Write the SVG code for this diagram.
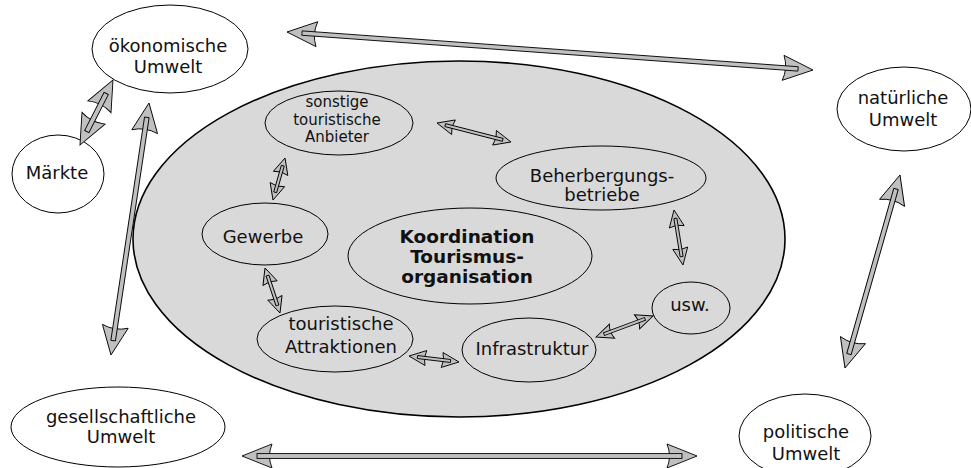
<svg xmlns="http://www.w3.org/2000/svg" width="971" height="468" viewBox="0 0 971 468">
<style>
.bg{fill:#ffffff}
.node{fill:#ffffff;stroke:#000;stroke-width:1}
.inner{fill:#d9d9d9;stroke:#000;stroke-width:1}
.big{fill:#d9d9d9;stroke:#000;stroke-width:1.6}
text{font-family:"DejaVu Sans","Verdana",sans-serif;font-size:18px;fill:#111;text-anchor:middle}
.b{font-weight:bold;font-size:18.5px}
.s{font-size:15px}
.ah{fill:#c0c0c0;stroke:#000;stroke-width:0.9;stroke-linejoin:miter}
.sh{fill:#c0c0c0;stroke:#000;stroke-width:0.9}
</style>
<rect class="bg" x="0" y="0" width="971" height="468"/>
<g id="tourismus-region">
<ellipse class="big" cx="459" cy="239" rx="326" ry="178"/>
</g>
<g id="oekonomische-umwelt">
<ellipse class="node" cx="170" cy="49" rx="78" ry="44"/>
<text x="168" y="52">ökonomische</text>
<text x="168" y="73">Umwelt</text>
</g>
<g id="maerkte">
<ellipse class="node" cx="58" cy="174" rx="46" ry="39"/>
<text x="57" y="179">Märkte</text>
</g>
<g id="natuerliche-umwelt">
<ellipse class="node" cx="904" cy="109" rx="67" ry="42"/>
<text x="903" y="104">natürliche</text>
<text x="903" y="126">Umwelt</text>
</g>
<g id="politische-umwelt">
<ellipse class="node" cx="805" cy="436" rx="66" ry="42"/>
<text x="806" y="438">politische</text>
<text x="806" y="460">Umwelt</text>
</g>
<g id="gesellschaftliche-umwelt">
<ellipse class="node" cx="118" cy="427" rx="107" ry="40"/>
<text x="121" y="423">gesellschaftliche</text>
<text x="121" y="443">Umwelt</text>
</g>
<g id="sonstige-anbieter">
<ellipse class="inner" cx="339" cy="123" rx="74" ry="32"/>
<text class="s" x="337" y="107">sonstige</text>
<text class="s" x="337" y="124.5">touristische</text>
<text class="s" x="337" y="142">Anbieter</text>
</g>
<g id="beherbergungsbetriebe">
<ellipse class="inner" cx="601" cy="178" rx="105" ry="32"/>
<text x="602" y="182">Beherbergungs-</text>
<text x="602" y="201">betriebe</text>
</g>
<g id="gewerbe">
<ellipse class="inner" cx="265" cy="234" rx="63" ry="31"/>
<text x="263" y="243">Gewerbe</text>
</g>
<g id="koordination">
<ellipse class="inner" cx="470" cy="256" rx="122" ry="48"/>
<text class="b" x="467" y="243">Koordination</text>
<text class="b" x="467" y="263">Tourismus-</text>
<text class="b" x="467" y="283">organisation</text>
</g>
<g id="touristische-attraktionen">
<ellipse class="inner" cx="335" cy="339" rx="78" ry="33"/>
<text x="341" y="330">touristische</text>
<text x="341" y="353">Attraktionen</text>
</g>
<g id="infrastruktur">
<ellipse class="inner" cx="529" cy="350" rx="67" ry="32"/>
<text x="532" y="355">Infrastruktur</text>
</g>
<g id="usw">
<ellipse class="inner" cx="691" cy="308" rx="39" ry="26"/>
<text x="690" y="311">usw.</text>
</g>
<g id="connectors">
<g transform="translate(287,32) rotate(4.132)">
<path class="ah" d="M0,0 L30,-12.5 Q25,0 30,12.5 Z M527.4,0 L497.4,-12.5 Q502.4,0 497.4,12.5 Z"/>
<rect class="sh" x="15" y="-2.2" width="497.4" height="4.4"/>
</g>
<g transform="translate(113,80) rotate(116.92)">
<path class="ah" d="M0,0 L30,-13 Q25,0 30,13 Z M72.9,0 L42.9,-13 Q47.9,0 42.9,13 Z"/>
<rect class="sh" x="15" y="-2.4" width="42.9" height="4.8"/>
</g>
<g transform="translate(149,103) rotate(98.58)">
<path class="ah" d="M0,0 L29,-13 Q24,0 29,13 Z M254.85,0 L225.85,-13 Q230.85,0 225.85,13 Z"/>
<rect class="sh" x="14.5" y="-2.3" width="225.85" height="4.6"/>
</g>
<g transform="translate(900,175) rotate(105.91)">
<path class="ah" d="M0,0 L29,-13 Q24,0 29,13 Z M200.7,0 L171.7,-13 Q176.7,0 171.7,13 Z"/>
<rect class="sh" x="14.5" y="-2.3" width="171.7" height="4.6"/>
</g>
<g transform="translate(242,456) rotate(0)">
<path class="ah" d="M0,0 L30,-12 Q25,0 30,12 Z M455,0 L425,-12 Q430,0 425,12 Z"/>
<rect class="sh" x="15" y="-2.4" width="425" height="4.8"/>
</g>
<g transform="translate(437,123) rotate(14.40)">
<path class="ah" d="M0,0 L17,-7.5 Q14,0 17,7.5 Z M76.4,0 L59.4,-7.5 Q62.4,0 59.4,7.5 Z"/>
<rect class="sh" x="8.5" y="-1.5" width="59.4" height="3"/>
</g>
<g transform="translate(674,210) rotate(80.71)">
<path class="ah" d="M0,0 L17,-7.5 Q14,0 17,7.5 Z M55.73,0 L38.73,-7.5 Q41.73,0 38.73,7.5 Z"/>
<rect class="sh" x="8.5" y="-1.5" width="38.73" height="3"/>
</g>
<g transform="translate(653,316) rotate(159.77)">
<path class="ah" d="M0,0 L17,-7.5 Q14,0 17,7.5 Z M60.75,0 L43.75,-7.5 Q46.75,0 43.75,7.5 Z"/>
<rect class="sh" x="8.5" y="-1.5" width="43.75" height="3"/>
</g>
<g transform="translate(409,356) rotate(6.84)">
<path class="ah" d="M0,0 L17,-7.5 Q14,0 17,7.5 Z M50.36,0 L33.36,-7.5 Q36.36,0 33.36,7.5 Z"/>
<rect class="sh" x="8.5" y="-1.5" width="33.36" height="3"/>
</g>
<g transform="translate(265,268) rotate(71.57)">
<path class="ah" d="M0,0 L16,-7.5 Q13,0 16,7.5 Z M47.43,0 L31.43,-7.5 Q34.43,0 31.43,7.5 Z"/>
<rect class="sh" x="8" y="-1.5" width="31.43" height="3"/>
</g>
<g transform="translate(285,158) rotate(105.95)">
<path class="ah" d="M0,0 L16,-7.5 Q13,0 16,7.5 Z M43.68,0 L27.68,-7.5 Q30.68,0 27.68,7.5 Z"/>
<rect class="sh" x="8" y="-1.5" width="27.68" height="3"/>
</g>
</g>
</svg>
